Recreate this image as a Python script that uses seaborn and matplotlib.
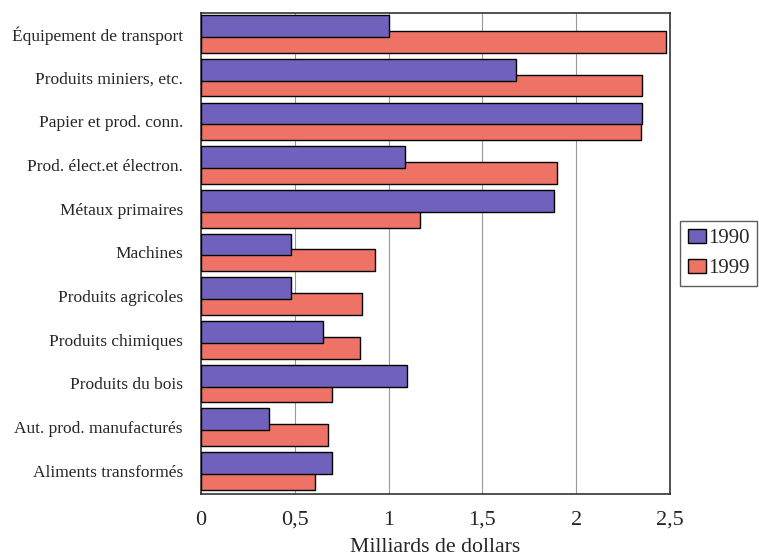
import matplotlib
matplotlib.use("Agg")
import matplotlib.pyplot as plt
import seaborn as sns
import pandas as pd
import numpy as np

categories = [
    "Équipement de transport",
    "Produits miniers, etc.",
    "Papier et prod. conn.",
    "Prod. élect.et électron.",
    "Métaux primaires",
    "Machines",
    "Produits agricoles",
    "Produits chimiques",
    "Produits du bois",
    "Aut. prod. manufacturés",
    "Aliments transformés",
]
values_1990 = [1.00, 1.68, 2.35, 1.09, 1.88, 0.48, 0.48, 0.65, 1.10, 0.36, 0.70]
values_1999 = [2.48, 2.35, 2.345, 1.90, 1.17, 0.925, 0.86, 0.85, 0.70, 0.675, 0.61]
years = ["1990", "1999"]
xticks = [0, 0.5, 1, 1.5, 2, 2.5]
xtick_labels = ["0", "0,5", "1", "1,5", "2", "2,5"]

df = pd.DataFrame({
    "categorie": categories * 2,
    "valeur": values_1990 + values_1999,
    "annee": [years[0]] * len(categories) + [years[1]] * len(categories),
})

sns.set_style("white")
plt.rcParams["font.family"] = ["Liberation Serif", "DejaVu Serif"]

colors = {"1990": "#7062BC", "1999": "#EE7366"}

fig = plt.figure(figsize=(7.59, 5.56), dpi=100)
ax = fig.add_axes([0.2648, 0.1115, 0.6179, 0.8651])

sns.barplot(data=df, y="categorie", x="valeur", hue="annee", orient="h",
            palette=colors, width=0.72, dodge=True, saturation=1,
            edgecolor="black", linewidth=1.0, errorbar=None, ax=ax,
            legend=True)

# Thicken the bars so each pair overlaps, with 1990 drawn over 1999
bar_h = 0.5
n = len(categories)
for i, p in enumerate(ax.patches[:2 * n]):
    cy = p.get_y() + p.get_height() / 2
    p.set_height(bar_h)
    p.set_y(cy - bar_h / 2)
    p.set_zorder(4 if i < n else 3)

ax.set_xlim(0, 2.5)
ax.set_ylim(10.53, -0.48)
ax.set_xticks(xticks)
ax.set_xticklabels(xtick_labels, fontsize=16)
ax.tick_params(axis="y", labelsize=12.5, length=0, pad=13)
ax.tick_params(axis="x", length=0, pad=12)
ax.xaxis.grid(True, color="#999999", linewidth=0.8)
ax.set_axisbelow(True)
for s in ax.spines.values():
    s.set_visible(True)
    s.set_color("#333333")
    s.set_linewidth(1.2)
ax.set_ylabel("")
ax.set_xlabel("Milliards de dollars", fontsize=15.7, labelpad=6)

handles, labels = ax.get_legend_handles_labels()
ax.legend(handles, labels, loc="center left", bbox_to_anchor=(1.022, 0.5),
          frameon=True, fancybox=False, edgecolor="#333333",
          fontsize=15, handlelength=0.9, handleheight=0.7,
          handletextpad=0.1, borderpad=0.35, labelspacing=0.5,
          borderaxespad=0)

fig.savefig("out.png", dpi=100, facecolor="white")
